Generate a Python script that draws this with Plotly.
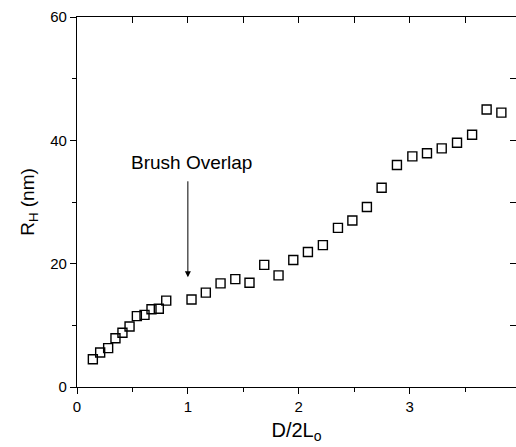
import plotly.graph_objects as go

# Data
d_over_2lo = [0.143, 0.209, 0.281, 0.347, 0.410, 0.474, 0.540, 0.609, 0.672, 0.738, 0.805,
              1.033, 1.162, 1.295, 1.428, 1.556, 1.689, 1.818, 1.951, 2.083, 2.218,
              2.354, 2.484, 2.615, 2.748, 2.886, 3.025, 3.157, 3.290, 3.428, 3.564,
              3.695, 3.828]
rh_nm = [4.5, 5.6, 6.3, 7.9, 8.8, 9.8, 11.5, 11.7, 12.6, 12.7, 14.0,
         14.2, 15.3, 16.8, 17.5, 16.9, 19.8, 18.1, 20.6, 21.9, 23.0,
         25.8, 27.0, 29.2, 32.3, 36.0, 37.4, 37.9, 38.7, 39.6, 40.9,
         45.0, 44.5]

x_ticks = [0, 1, 2, 3]
y_ticks = [0, 20, 40, 60]
x_range = [0, 3.96]
y_range = [0, 60]

annot_text = "Brush Overlap"
annot_x = 1.0
annot_head_y = 17.8
annot_tail_y = 33.6
annot_text_y = 34.4

FONT = "Liberation Sans, Arial, sans-serif"

fig = go.Figure()
fig.add_trace(go.Scatter(
    x=d_over_2lo, y=rh_nm, mode="markers",
    marker=dict(symbol="square-open", size=9, color="black", line=dict(width=1.4, color="black")),
    showlegend=False,
))
fig.add_trace(go.Scatter(x=[None], y=[None], xaxis="x2", yaxis="y2", showlegend=False, hoverinfo="skip"))

axis_common = dict(showgrid=False, zeroline=False, showline=True, linecolor="black", linewidth=1.3,
                   tickcolor="black", tickwidth=1.2, ticklen=6, automargin=False,
                   tickfont=dict(family=FONT, size=15, color="black"))

fig.update_layout(
    width=516, height=447,
    margin=dict(l=77, r=0, t=17, b=60),
    paper_bgcolor="white", plot_bgcolor="white",
    font=dict(family=FONT, color="black"),
    xaxis=dict(range=x_range, tickvals=x_ticks, ticks="outside",
               minor=dict(dtick=0.5, ticks="outside", ticklen=4, tickcolor="black", tickwidth=1.2),
               title=dict(text="D/2L<sub>o</sub>", font=dict(family=FONT, size=20), standoff=8),
               **axis_common),
    yaxis=dict(range=y_range, tickvals=y_ticks, ticks="outside",
               minor=dict(dtick=10, ticks="outside", ticklen=4, tickcolor="black", tickwidth=1.2),
               title=dict(text="R<sub>H</sub> (nm)", font=dict(family=FONT, size=19), standoff=10),
               **axis_common),
    xaxis2=dict(range=x_range, overlaying="x", side="top", showticklabels=False,
                tickvals=x_ticks, ticks="inside",
                minor=dict(dtick=0.5, ticks="inside", ticklen=6, tickcolor="black", tickwidth=1.2),
                **axis_common),
    yaxis2=dict(range=y_range, overlaying="y", side="right", showticklabels=False,
                tickvals=y_ticks, ticks="inside",
                minor=dict(dtick=10, ticks="inside", ticklen=6, tickcolor="black", tickwidth=1.2),
                **axis_common),
)

fig.add_annotation(x=annot_x, y=annot_head_y, ax=annot_x, ay=annot_tail_y,
                   xref="x", yref="y", axref="x", ayref="y",
                   text="", showarrow=True, arrowhead=2, arrowsize=1.2, arrowwidth=1, arrowcolor="black")
fig.add_annotation(x=annot_x + 0.03, y=annot_text_y, xref="x", yref="y", text=annot_text,
                   showarrow=False, yanchor="bottom",
                   font=dict(family=FONT, size=19, color="black"))

fig.write_html("out.html", config={"displayModeBar": False},
               post_script="document.body.style.margin='0';")
